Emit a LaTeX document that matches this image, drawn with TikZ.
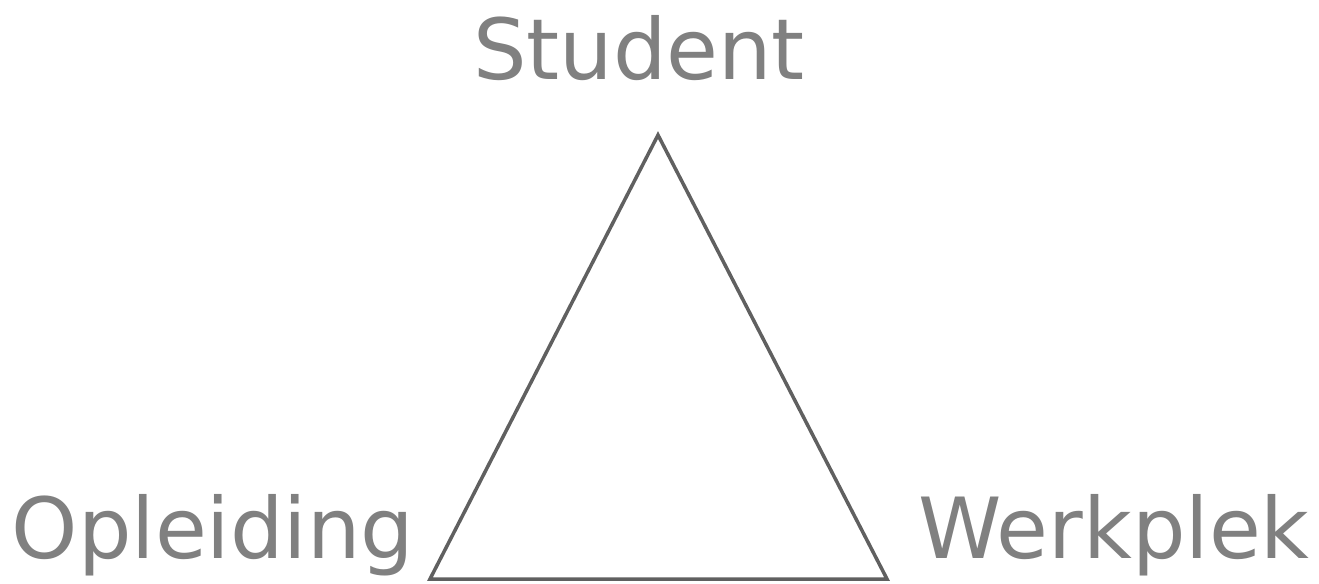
\documentclass[tikz,border=0pt]{standalone}
\usepackage{fontspec}
\setmainfont{DejaVu Sans}
\definecolor{labelgray}{HTML}{808080}
\definecolor{linegray}{HTML}{606060}
\begin{document}
\begin{tikzpicture}[x=0.02cm, y=-0.02cm,
    corner/.style={text=labelgray, font=\fontsize{48}{56}\selectfont, anchor=base, inner sep=0pt}]
    \useasboundingbox (0, 0) rectangle (1319, 583);
    \coordinate (S) at (658, 135);
    \coordinate (O) at (430, 579);
    \coordinate (W) at (887, 579);
    \draw[linegray, line width=2pt, line join=miter] (S) -- (O) -- (W) -- cycle;
    \node[corner] (student) at (639, 79) {Student};
    \node[corner] (opleiding) at (213, 558) {Opleiding};
    \node[corner] (werkplek) at (1114, 558) {Werkplek};
\end{tikzpicture}
\end{document}
